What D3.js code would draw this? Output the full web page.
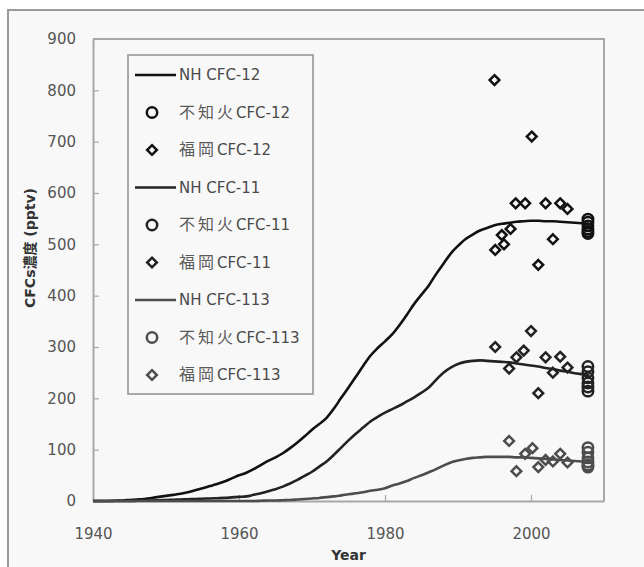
<!DOCTYPE html>
<html>
<head>
<meta charset="utf-8">
<script src="https://cdn.jsdelivr.net/npm/d3@7/dist/d3.min.js"></script>
<style>
  html, body { margin: 0; padding: 0; background: #ffffff; }
  svg { display: block; }
  text { font-family: "DejaVu Sans", "Noto Sans CJK JP", sans-serif; }
</style>
</head>
<body>
<svg id="chart" width="644" height="567"></svg>
<script>
// Northern-hemisphere background concentrations (pptv), yearly
const years = [1940,1941,1942,1943,1944,1945,1946,1947,1948,1949,
  1950,1951,1952,1953,1954,1955,1956,1957,1958,1959,
  1960,1961,1962,1963,1964,1965,1966,1967,1968,1969,
  1970,1971,1972,1973,1974,1975,1976,1977,1978,1979,
  1980,1981,1982,1983,1984,1985,1986,1987,1988,1989,
  1990,1991,1992,1993,1994,1995,1996,1997,1998,1999,
  2000,2001,2002,2003,2004,2005,2006,2007,2008];

const nhCfc12 = [0,0,0,0.5,1,2,3,4,6,8,
  10,12,14,17,21,25,29,33,38,44,
  50,55,62,70,78,85,93,103,114,126,
  139,150,162,180,201,221,242,263,283,298,
  311,325,343,363,384,402,420,442,462,482,
  497,510,519,527,532,537,540,542,544,545,
  546,546,545,545,544,543,542,541,540];

const nhCfc11 = [0,0,0,0,0,0,0.5,1,1,1.5,
  2,2.5,3,3.5,4,4.5,5,5.5,6,7,
  8,9,12,15,19,23,28,34,41,49,
  57,67,77,90,104,118,131,143,155,164,
  172,179,186,194,202,211,221,236,250,260,
  267,271,273,274,273,272,271,270,268,266,
  264,262,259,257,254,252,249,247,245];

const nhCfc113 = [0,0,0,0,0,0,0,0,0,0,
  0,0,0,0,0,0,0,0,0,0,
  0,0,0,0.5,1,1,1.5,2,3,4,
  5,6,7.5,9,11,13,15,17,20,22,
  25,30,34,39,45,50,56,62,69,75,
  79,82,84,85,86,86,86,86,85,85,
  84,83,82,81,80,79,78,77,76];

// Shiranui samples (circles)
const shiranuiYears = [2007.8,2007.8,2007.8,2007.8,2007.8,2007.8];
const shiranuiCfc12  = [549,543,536,530,525,521];
const shiranuiCfc11  = [262,252,240,230,222,214];
const shiranuiCfc113 = [104,95,84,76,70,66];

// Fukuoka samples (diamonds)
const fukuokaCfc12Years = [1995,1995.1,1996,1996.3,1997.2,1997.9,1999.2,2000.1,2001,2002,2003,2004,2005];
const fukuokaCfc12      = [820,489,518,500,530,580,580,710,460,580,510,580,569];
const fukuokaCfc11Years = [1995.1,1997,1998,1999,2000,2001,2002,2003,2004,2005];
const fukuokaCfc11      = [300,258,280,293,331,210,280,250,281,260];
const fukuokaCfc113Years = [1997,1998,1999.2,2000.2,2001,2002,2003,2004,2005];
const fukuokaCfc113      = [117,58,92,103,66,80,77,92,75];

const xTicks = [1940,1960,1980,2000];
const yTicks = [0,100,200,300,400,500,600,700,800,900];

// legend entries: [station or region prefix, species]
const legendPrefixes = ["NH ","不知火","福岡","NH ","不知火","福岡","NH ","不知火","福岡"];
const legendSpecies  = ["CFC-12","CFC-12","CFC-12","CFC-11","CFC-11","CFC-11","CFC-113","CFC-113","CFC-113"];

const colors = { c12: "#111111", c11: "#222222", c113: "#4d4d4d" };

const svg = d3.select("#chart");

// chart frame
svg.append("rect").attr("x", 8).attr("y", 10).attr("width", 660).attr("height", 600)
  .attr("fill", "#f8f8f8").attr("stroke", "#9a9a9a").attr("stroke-width", 2);

const x = d3.scaleLinear().domain([1940, 2010]).range([93, 604]);
const y = d3.scaleLinear().domain([0, 900]).range([501, 39]);

// plot area border (top and right)
svg.append("path")
  .attr("d", `M${x(1940)},${y(900)}H${x(2010)}V${y(0)}`)
  .attr("fill", "none").attr("stroke", "#a8a8a8").attr("stroke-width", 2);

const yAxis = svg.append("g").attr("transform", `translate(${x(1940)},0)`)
  .call(d3.axisLeft(y).tickValues(yTicks).tickSize(-6).tickSizeOuter(0).tickPadding(17));
const xAxis = svg.append("g").attr("transform", `translate(0,${y(0)})`)
  .call(d3.axisBottom(x).tickValues(xTicks).tickFormat(d3.format("d"))
    .tickSize(-6).tickSizeOuter(0).tickPadding(27));

[yAxis, xAxis].forEach(g => {
  g.select(".domain").attr("stroke", "#a8a8a8").attr("stroke-width", 2);
  g.selectAll(".tick line").attr("stroke", "#a8a8a8").attr("stroke-width", 1.2);
  g.selectAll(".tick text").attr("fill", "#555").style("font-size", "15px")
    .style("font-family", "'DejaVu Sans', sans-serif");
});
xAxis.selectAll(".tick").filter(d => d === 1940).select("line").remove();

// axis titles
svg.append("text").attr("x", (x(1940) + x(2010)) / 2).attr("y", 560)
  .attr("text-anchor", "middle").attr("font-weight", "bold").attr("font-size", 14)
  .attr("fill", "#333").text("Year");
svg.append("text").attr("transform", "translate(35,248) rotate(-90)")
  .attr("text-anchor", "middle").attr("font-weight", "bold").attr("font-size", 14)
  .attr("fill", "#333").text("CFCs濃度 (pptv)");

// curves
const line = d3.line().x(d => x(d[0])).y(d => y(d[1])).curve(d3.curveMonotoneX);
[[nhCfc12, colors.c12], [nhCfc11, colors.c11], [nhCfc113, colors.c113]].forEach(([vals, c]) => {
  svg.append("path").datum(years.map((yr, i) => [yr, vals[i]]))
    .attr("d", line).attr("fill", "none").attr("stroke", c).attr("stroke-width", 2.6);
});

const diamond = d3.symbol().type(d3.symbolDiamond2).size(60);
const circle = d3.symbol().type(d3.symbolCircle).size(85);

function drawPoints(xs, vs, sym, c) {
  svg.append("g").selectAll("path").data(xs.map((yr, i) => [yr, vs[i]])).join("path")
    .attr("transform", d => `translate(${x(d[0])},${y(d[1])})`)
    .attr("d", sym).attr("fill", "none").attr("stroke", c).attr("stroke-width", 2.5);
}
drawPoints(fukuokaCfc12Years, fukuokaCfc12, diamond, colors.c12);
drawPoints(fukuokaCfc11Years, fukuokaCfc11, diamond, colors.c11);
drawPoints(fukuokaCfc113Years, fukuokaCfc113, diamond, colors.c113);
drawPoints(shiranuiYears, shiranuiCfc12, circle, colors.c12);
drawPoints(shiranuiYears, shiranuiCfc11, circle, colors.c11);
drawPoints(shiranuiYears, shiranuiCfc113, circle, colors.c113);

// legend
const legend = svg.append("g");
legend.append("rect").attr("x", 128).attr("y", 55).attr("width", 185).attr("height", 339)
  .attr("fill", "#f8f8f8").attr("stroke", "#a0a0a0").attr("stroke-width", 1.8);
const legendColors = [colors.c12, colors.c12, colors.c12, colors.c11, colors.c11, colors.c11,
                      colors.c113, colors.c113, colors.c113];
legendSpecies.forEach((sp, i) => {
  const cy = 75 + i * 37.5;
  const kind = i % 3;
  const c = legendColors[i];
  if (kind === 0) {
    legend.append("line").attr("x1", 135).attr("x2", 176).attr("y1", cy).attr("y2", cy)
      .attr("stroke", c).attr("stroke-width", 2.6);
  } else {
    legend.append("path").attr("transform", `translate(152,${cy})`)
      .attr("d", kind === 1 ? circle : diamond)
      .attr("fill", "none").attr("stroke", c).attr("stroke-width", 2.5);
  }
  const t = legend.append("text").attr("x", 179).attr("y", cy).attr("dy", "0.36em")
    .attr("font-size", 15).attr("fill", "#4a4a4a");
  if (kind === 0) {
    t.append("tspan").text(legendPrefixes[i]);
  } else {
    t.append("tspan").attr("font-size", 16).attr("letter-spacing", 3)
      .attr("fill", "#5a5a5a").text(legendPrefixes[i]);
  }
  t.append("tspan").text(sp);
});
</script>
</body>
</html>
